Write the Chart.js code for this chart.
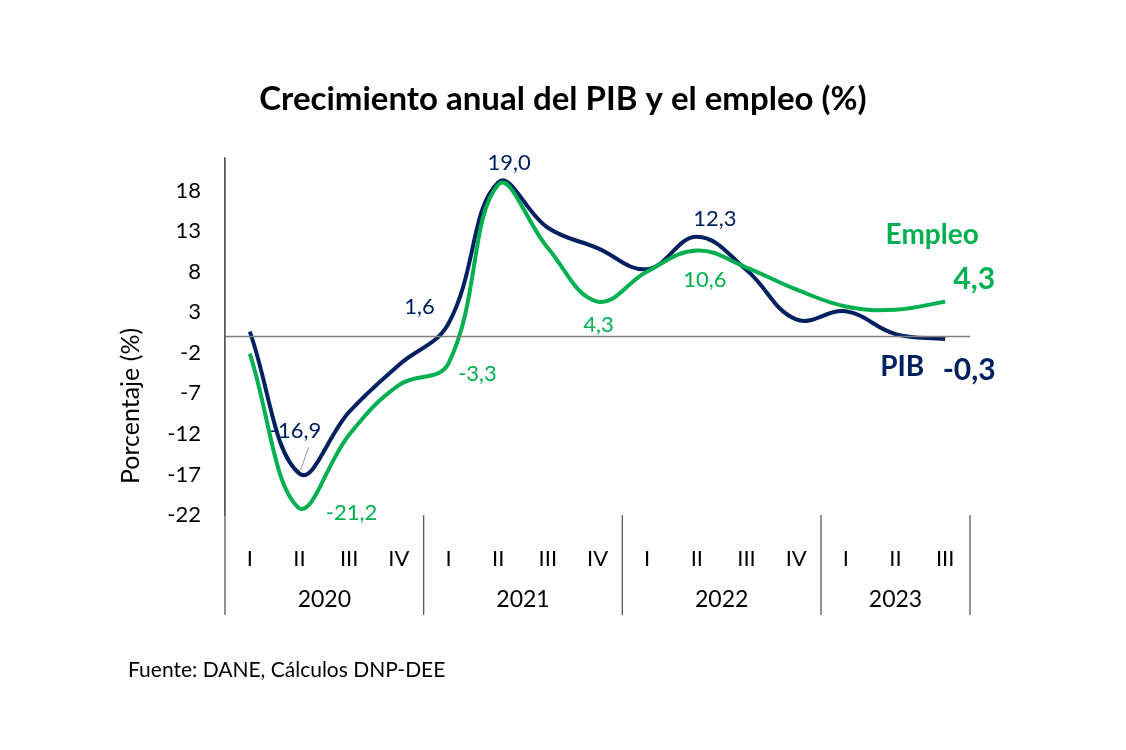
<!DOCTYPE html>
<html>
<head>
<meta charset="utf-8">
<script src="https://cdn.jsdelivr.net/npm/chart.js@4.4.0/dist/chart.umd.min.js"></script>
<style>
  html, body { margin: 0; padding: 0; background: #fff; }
  #wrap { width: 1126px; height: 750px; position: relative; }
</style>
</head>
<body>
<div id="wrap"><canvas id="chart" width="1126" height="750"></canvas></div>
<script>
// Data
const quarters = ['I', 'II', 'III', 'IV', 'I', 'II', 'III', 'IV', 'I', 'II', 'III', 'IV', 'I', 'II', 'III'];
const years = ['2020', '2021', '2022', '2023'];
const quartersPerYear = [4, 4, 4, 3];
const pib = [0.6, -16.9, -9.3, -3.5, 1.6, 19.0, 13.4, 10.9, 8.3, 12.3, 8.2, 2.1, 3.1, 0.3, -0.3];
const empleo = [-2.1, -21.2, -12.1, -6.0, -3.3, 18.7, 10.9, 4.3, 8.0, 10.6, 8.5, 5.8, 3.7, 3.3, 4.3];
const yTicks = [-22, -17, -12, -7, -2, 3, 8, 13, 18];

const NAVY = '#002060';
const GREEN = '#00B050';
const FONT = 'Lato, "Open Sans", sans-serif';

const fmt = v => v.toFixed(1).replace('.', ',');

// label placement (offsets from the point, px)
const pibLabelPos = [
    { i: 1, dx: -4, dy: -43, leader: [9, -26, 1, -3] },
    { i: 4, dx: -29, dy: -17 },
    { i: 5, dx: 11, dy: -19 },
    { i: 9, dx: 18, dy: -18 }
];
const empleoLabelPos = [
    { i: 1, dx: 52, dy: 4 },
    { i: 4, dx: 29, dy: 11 },
    { i: 7, dx: 1, dy: 23 },
    { i: 9, dx: 8, dy: 29 }
];

const decorPlugin = {
    id: 'decor',
    afterDraw(chart) {
        const ctx = chart.ctx;
        const area = chart.chartArea;
        const x = chart.scales.x;
        const y = chart.scales.y;
        ctx.save();

        // title
        ctx.fillStyle = '#000';
        ctx.font = `bold 33px ${FONT}`;
        ctx.textAlign = 'center';
        ctx.textBaseline = 'middle';
        ctx.fillText('Crecimiento anual del PIB y el empleo (%)', 563, 99);

        // y axis title
        ctx.save();
        ctx.translate(131, 406);
        ctx.rotate(-Math.PI / 2);
        ctx.font = `25px ${FONT}`;
        ctx.fillText('Porcentaje (%)', 0, 0);
        ctx.restore();

        // zero line
        const y0 = y.getPixelForValue(0);
        ctx.strokeStyle = '#7f7f7f';
        ctx.lineWidth = 1.3;
        ctx.beginPath();
        ctx.moveTo(area.left, y0);
        ctx.lineTo(area.right, y0);
        ctx.stroke();

        // year dividers and labels
        const half = (x.getPixelForValue(1) - x.getPixelForValue(0)) / 2;
        ctx.strokeStyle = '#595959';
        ctx.lineWidth = 1.3;
        let start = 0;
        const bounds = [area.left];
        years.forEach((yr, k) => {
            const end = start + quartersPerYear[k] - 1;
            bounds.push(x.getPixelForValue(end) + half);
            const cx = (x.getPixelForValue(start) + x.getPixelForValue(end)) / 2;
            ctx.fillStyle = '#000';
            ctx.font = `23px ${FONT}`;
            ctx.fillText(yr, cx, 600);
            start = end + 1;
        });
        bounds.forEach(bx => {
            ctx.beginPath();
            ctx.moveTo(bx, bx === area.left ? area.top : area.bottom);
            ctx.lineTo(bx, 615);
            ctx.stroke();
        });

        // data labels
        const drawLabels = (data, pos, color) => {
            ctx.fillStyle = color;
            ctx.font = `22px ${FONT}`;
            pos.forEach(p => {
                const px = x.getPixelForValue(p.i);
                const py = y.getPixelForValue(data[p.i]);
                ctx.fillText(fmt(data[p.i]), px + p.dx, py + p.dy);
                if (p.leader) {
                    ctx.strokeStyle = '#a6a6a6';
                    ctx.lineWidth = 1.2;
                    ctx.beginPath();
                    ctx.moveTo(px + p.leader[0], py + p.leader[1]);
                    ctx.lineTo(px + p.leader[2], py + p.leader[3]);
                    ctx.stroke();
                }
            });
        };
        drawLabels(pib, pibLabelPos, NAVY);
        drawLabels(empleo, empleoLabelPos, GREEN);

        // end labels
        const last = quarters.length - 1;
        const lx = x.getPixelForValue(last);
        const ly1 = y.getPixelForValue(empleo[last]);
        const ly2 = y.getPixelForValue(pib[last]);
        ctx.font = `bold 28px ${FONT}`;
        ctx.fillStyle = GREEN;
        ctx.fillText('Empleo', lx - 13, ly1 - 67);
        ctx.font = `bold 30px ${FONT}`;
        ctx.fillText(fmt(empleo[last]), lx + 29, ly1 - 22);
        ctx.fillStyle = NAVY;
        ctx.font = `bold 28px ${FONT}`;
        ctx.fillText('PIB', lx - 43, ly2 + 28);
        ctx.font = `bold 30px ${FONT}`;
        ctx.fillText(fmt(pib[last]), lx + 24, ly2 + 31);

        // footer
        ctx.fillStyle = '#000';
        ctx.font = `21px ${FONT}`;
        ctx.textAlign = 'left';
        ctx.fillText('Fuente: DANE, Cálculos DNP-DEE', 128, 670);

        ctx.restore();
    }
};

new Chart(document.getElementById('chart'), {
    type: 'line',
    data: {
        labels: quarters,
        datasets: [
            {
                label: 'Empleo',
                data: empleo,
                borderColor: GREEN,
                borderWidth: 4,
                tension: 0.4,
                pointRadius: 0,
                fill: false
            },
            {
                label: 'PIB',
                data: pib,
                borderColor: NAVY,
                borderWidth: 4,
                tension: 0.4,
                pointRadius: 0,
                fill: false
            }
        ]
    },
    options: {
        responsive: false,
        animation: false,
        layout: { padding: { left: 0, right: 156, top: 158, bottom: 0 } },
        plugins: {
            legend: { display: false },
            tooltip: { enabled: false }
        },
        scales: {
            x: {
                offset: true,
                grid: { display: false },
                border: { display: false },
                ticks: {
                    color: '#000',
                    font: { family: FONT, size: 22 },
                    padding: 23,
                    maxRotation: 0,
                    autoSkip: false
                },
                afterFit: s => { s.height = 235; }
            },
            y: {
                min: -22,
                max: 22,
                grid: { display: false, drawTicks: false },
                border: { display: true, color: '#595959', width: 1.3 },
                ticks: {
                    color: '#000',
                    font: { family: FONT, size: 22 },
                    padding: 24
                },
                afterBuildTicks: s => { s.ticks = yTicks.map(v => ({ value: v })); },
                afterFit: s => { s.width = 225; }
            }
        }
    },
    plugins: [decorPlugin]
});
</script>
</body>
</html>
